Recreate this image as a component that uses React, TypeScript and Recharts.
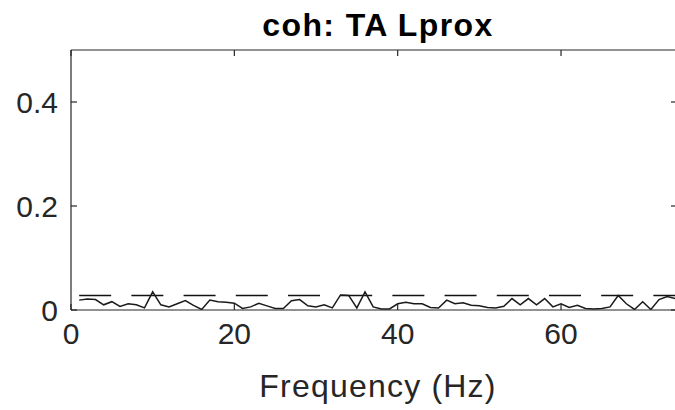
import React from "react";
import { LineChart, Line, XAxis, YAxis, ReferenceLine } from "recharts";

// coherence spectrum, 1 Hz bins
const freqs = [
  1, 2, 3, 4, 5, 6, 7, 8, 9, 10, 11, 12, 13, 14, 15, 16, 17, 18, 19, 20, 21, 22, 23, 24, 25,
  26, 27, 28, 29, 30, 31, 32, 33, 34, 35, 36, 37, 38, 39, 40, 41, 42, 43, 44, 45, 46, 47, 48, 49,
  50, 51, 52, 53, 54, 55, 56, 57, 58, 59, 60, 61, 62, 63, 64, 65, 66, 67, 68, 69, 70, 71, 72, 73, 74,
];
const coherence = [
  0.019, 0.021, 0.02, 0.01, 0.016, 0.007, 0.012, 0.01, 0.004, 0.035, 0.01, 0.006, 0.012, 0.018,
  0.009, 0.001, 0.019, 0.016, 0.015, 0.013, 0.003, 0.006, 0.013, 0.008, 0.003, 0.003, 0.018, 0.02,
  0.008, 0.006, 0.01, 0.004, 0.029, 0.028, 0.004, 0.035, 0.006, 0.002, 0.002, 0.012, 0.015, 0.012,
  0.012, 0.005, 0.004, 0.019, 0.012, 0.014, 0.009, 0.008, 0.005, 0.004, 0.007, 0.022, 0.01, 0.022,
  0.01, 0.022, 0.006, 0.012, 0.005, 0.009, 0.003, 0.002, 0.003, 0.006, 0.028, 0.012, 0.001, 0.016,
  0.001, 0.02, 0.026, 0.022,
];
const threshold = 0.028;
const xTicks = [0, 20, 40, 60];
const yTicks = [0, 0.2, 0.4];
const title = "coh: TA Lprox";
const xLabel = "Frequency (Hz)";

const LEFT = 71;
const TOP = 50;
const BOTTOM = 310;
const RIGHT = 677;
const AXIS = "#262626";
const FONT = "'Liberation Sans', Arial, Helvetica, sans-serif";
const TICK_FONT = 30;

const data = freqs.map((f, i) => ({ f, coh: coherence[i] }));

function XTick(props: any) {
  const x = props.payload.coordinate;
  return (
    <g>
      <line x1={x} x2={x} y1={BOTTOM} y2={BOTTOM - 6} stroke={AXIS} strokeWidth={1.2} />
      <line x1={x} x2={x} y1={TOP} y2={TOP + 6} stroke={AXIS} strokeWidth={1.2} />
      <text x={x} y={BOTTOM + 34} textAnchor="middle" fill={AXIS} fontSize={TICK_FONT} fontFamily={FONT}>
        {props.payload.value}
      </text>
    </g>
  );
}

function YTick(props: any) {
  const y = props.payload.coordinate;
  return (
    <g>
      <line x1={LEFT} x2={LEFT + 6} y1={y} y2={y} stroke={AXIS} strokeWidth={1.2} />
      <line x1={RIGHT - 6} x2={RIGHT} y1={y} y2={y} stroke={AXIS} strokeWidth={1.2} />
      <text x={LEFT - 13} y={y + 11} textAnchor="end" fill={AXIS} fontSize={TICK_FONT} fontFamily={FONT}>
        {props.payload.value}
      </text>
    </g>
  );
}

export default function App() {
  return (
    <div
      style={{
        position: "absolute",
        left: 0,
        top: 0,
        width: 675,
        height: 410,
        overflow: "hidden",
        background: "#fff",
        fontFamily: FONT,
      }}
    >
      <div
        style={{
          position: "absolute",
          left: 178,
          width: 400,
          top: 9,
          textAlign: "center",
          fontSize: 32,
          lineHeight: "32px",
          fontWeight: "bold",
          color: "#000",
          letterSpacing: 1.4,
        }}
      >
        {title}
      </div>
      <LineChart
        width={RIGHT + 13}
        height={410}
        data={data}
        margin={{ top: TOP, right: 13, bottom: 0, left: 0 }}
      >
        <XAxis
          type="number"
          dataKey="f"
          domain={[0, 74.2]}
          ticks={xTicks}
          height={410 - BOTTOM}
          tickLine={false}
          tick={<XTick />}
          axisLine={{ stroke: AXIS, strokeWidth: 1.2 }}
          allowDataOverflow
        />
        <YAxis
          domain={[0, 0.5]}
          ticks={yTicks}
          width={LEFT}
          tickLine={false}
          tick={<YTick />}
          axisLine={{ stroke: AXIS, strokeWidth: 1.2 }}
          allowDataOverflow
        />
        <ReferenceLine y={0.5} stroke={AXIS} strokeWidth={1.2} />
        <ReferenceLine
          segment={[
            { x: freqs[0], y: threshold },
            { x: 74.2, y: threshold },
          ]}
          stroke="#111"
          strokeWidth={1.6}
          strokeDasharray="32 20.2"
        />
        <Line
          type="linear"
          dataKey="coh"
          stroke="#1a1a1a"
          strokeWidth={1.5}
          dot={false}
          isAnimationActive={false}
        />
      </LineChart>
      <div
        style={{
          position: "absolute",
          left: 178,
          width: 400,
          top: 370,
          textAlign: "center",
          fontSize: 32,
          lineHeight: "32px",
          color: AXIS,
          letterSpacing: 1.2,
        }}
      >
        {xLabel}
      </div>
    </div>
  );
}
